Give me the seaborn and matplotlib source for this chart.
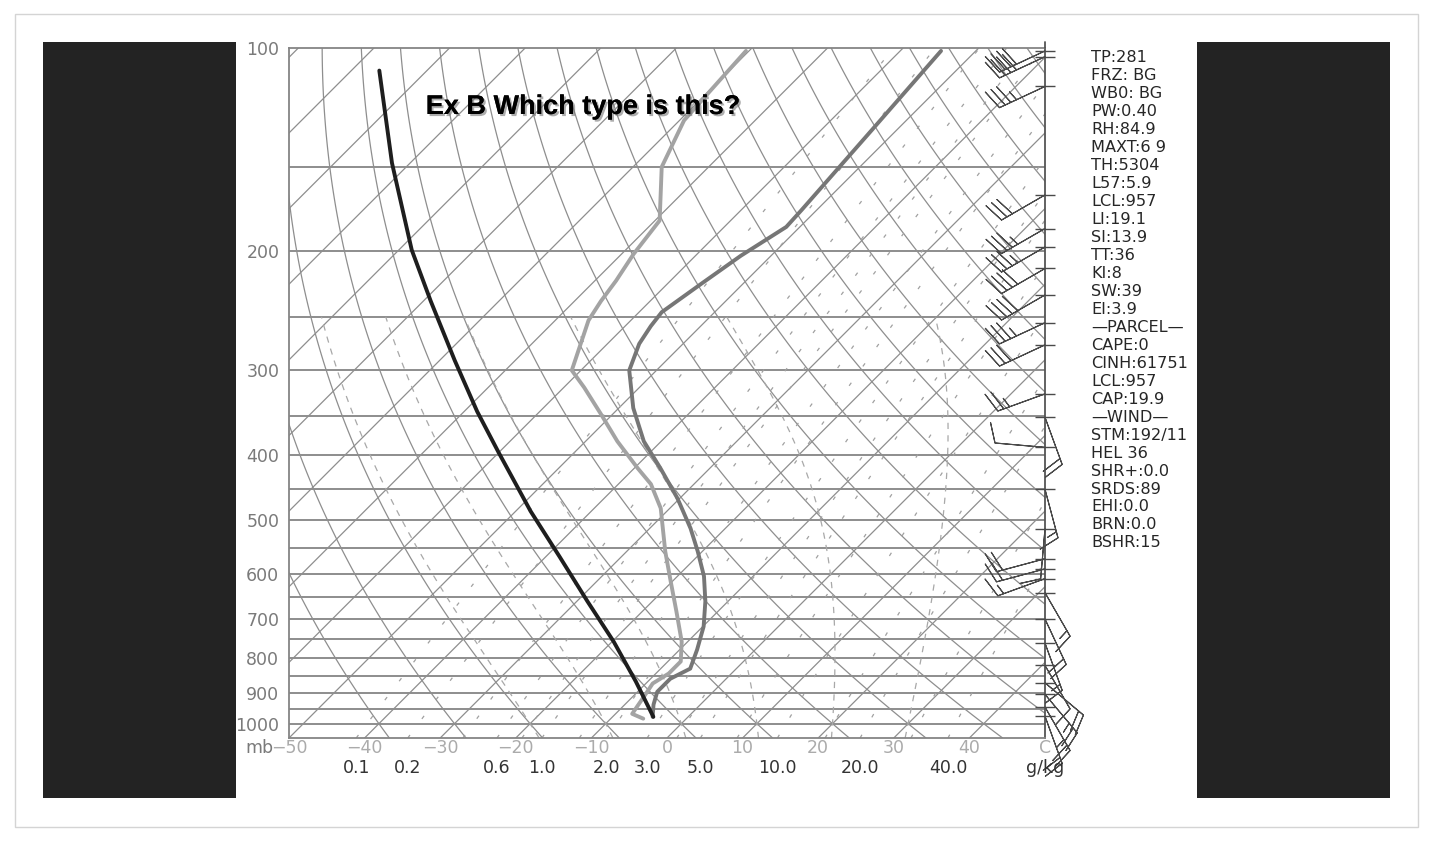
import numpy as np
import pandas as pd
import matplotlib
matplotlib.use("Agg")
import matplotlib.pyplot as plt
import matplotlib.patheffects as pe
from matplotlib.patches import Rectangle
from matplotlib.lines import Line2D
import seaborn as sns

# ---- sounding values (pressure in mb, temperature in C) ----
temp_p = [101, 132, 174, 184, 203, 223, 246, 258, 274, 300, 341, 382, 419, 464,
          514, 556, 605, 659, 718, 777, 829, 858, 897, 937, 977]
temp_t = [-54.6, -53.3, -52.0, -51.8, -54.0, -55.5, -57.0, -56.6, -55.8, -53.6,
          -48.1, -42.3, -36.5, -30.3, -24.6, -20.6, -16.5, -13.0, -9.9, -7.7,
          -6.1, -7.4, -7.4, -6.2, -4.7]

dewp_p = [101, 117, 128, 150, 180, 202, 221, 237, 253, 300, 318, 348, 382, 419,
          442, 480, 556, 616, 682, 756, 809, 843, 872, 906, 944, 967, 983]
dewp_t = [-80.4, -79.8, -79.4, -76.2, -69.4, -68.4, -67.2, -66.5, -65.6, -61.2,
          -57.3, -51.6, -45.8, -39.5, -35.7, -31.2, -24.9, -20.2, -15.5, -10.8,
          -8.3, -8.3, -9.1, -8.6, -8.1, -7.8, -5.7]

parcel_p = [108, 148, 199, 237, 290, 345, 395, 485, 565, 659, 756, 866, 977]
parcel_t = [-126.3, -112.4, -98.3, -89.0, -78.0, -68.3, -60.3, -48.0, -38.3,
            -28.6, -19.8, -11.6, -4.6]

# wind: pressure, direction (deg), speed (kt)
wind_p = [101, 103, 114, 165, 185, 197, 212, 232, 255, 275, 325, 352, 390, 450,
          515, 570, 590, 610, 640, 700, 760, 820, 870, 905, 945, 975]
wind_dir = [245, 245, 245, 240, 240, 240, 240, 240, 245, 245, 250, 160, 275, 165,
            185, 255, 255, 250, 150, 155, 160, 150, 130, 140, 150, 160]
wind_spd = [40, 40, 35, 30, 35, 35, 40, 40, 35, 30, 25, 20, 10, 15,
            10, 20, 20, 15, 15, 20, 15, 10, 20, 25, 25, 20]

stats = ["TP:281", "FRZ: BG", "WB0: BG", "PW:0.40", "RH:84.9", "MAXT:6 9",
         "TH:5304", "L57:5.9", "LCL:957", "LI:19.1", "SI:13.9", "TT:36", "KI:8",
         "SW:39", "EI:3.9", "\u2014PARCEL\u2014", "CAPE:0", "CINH:61751",
         "LCL:957", "CAP:19.9", "\u2014WIND\u2014", "STM:192/11", "HEL 36",
         "SHR+:0.0", "SRDS:89", "EHI:0.0", "BRN:0.0", "BSHR:15"]

pres_labels = [100, 200, 300, 400, 500, 600, 700, 800, 900, 1000]
temp_labels = [-50, -40, -30, -20, -10, 0, 10, 20, 30, 40, 50]
mix_labels = [0.1, 0.2, 0.6, 1.0, 2.0, 3.0, 5.0, 10.0, 20.0, 40.0]
mix_lines = [0.1, 0.2, 0.4, 0.6, 0.8, 1.0, 1.5, 2.0, 3.0, 4.0, 5.0, 7.0, 10.0,
             15.0, 20.0, 30.0, 40.0]

P_BOT, P_TOP = 1050.0, 100.0
K_SKEW = 38.8


def skew(t, p):
    return np.asarray(t, dtype=float) + K_SKEW * np.log(P_BOT / np.asarray(p, dtype=float))


def mixing_td(w, p):
    e = w * p / (622.0 + w)
    a = np.log(e / 6.112)
    return 243.5 * a / (17.67 - a)


def moist_lapse(t, p):
    rd, cp, lv, eps = 287.04, 1005.7, 2.501e6, 0.622
    tk = t + 273.15
    es = 6.112 * np.exp(17.67 * t / (t + 243.5))
    w = eps * es / (p - es)
    return (rd * tk + lv * w) / (cp + lv * lv * w * eps / (rd * tk * tk))


def moist_adiabat(tw, p_end):
    out_p, out_t = [1000.0], [tw]
    for target in (P_BOT, p_end):
        t, lp = tw, np.log(1000.0)
        steps = np.linspace(lp, np.log(target), 200)
        for i in range(1, len(steps)):
            d = steps[i] - steps[i - 1]
            k1 = moist_lapse(t, np.exp(steps[i - 1]))
            k2 = moist_lapse(t + k1 * d, np.exp(steps[i]))
            t = t + 0.5 * (k1 + k2) * d
            out_p.append(np.exp(steps[i]))
            out_t.append(t)
        if target == P_BOT:
            out_p = out_p[::-1]
            out_t = out_t[::-1]
    return np.array(out_p), np.array(out_t)


W, H = 1440, 841
fig = plt.figure(figsize=(W / 100, H / 100), dpi=100)
sns.set_theme(style="white")
plt.rcParams["font.family"] = ["DejaVu Sans"]


def fx(x):
    return x / W


def fy(y):
    return 1 - y / H


# framing panels
fig.patches.append(Rectangle((fx(15), fy(827)), (1418 - 15) / W, (827 - 14) / H,
                             transform=fig.transFigure, fill=False,
                             edgecolor="#d4d4d4", lw=1.0, zorder=-3))
fig.patches.append(Rectangle((fx(43), fy(798)), (1390 - 43) / W, (798 - 42) / H,
                             transform=fig.transFigure, facecolor="#232323",
                             edgecolor="none", zorder=-2))
fig.patches.append(Rectangle((fx(236), fy(798)), (1197 - 236) / W, (798 - 42) / H,
                             transform=fig.transFigure, facecolor="white",
                             edgecolor="none", zorder=-1))

ax = fig.add_axes([fx(289), fy(738), (1045 - 289) / W, (738 - 48) / H])
ax.set_facecolor("none")
ax.set_yscale("log")
ax.set_xlim(-50, 50)
ax.set_ylim(P_BOT, P_TOP)

grid_c = "#8e8e8e"
# isobars
for p in range(150, 1050, 50):
    ax.axhline(p, color="#858585", lw=1.3, zorder=1)
# isotherms
for t in range(-150, 51, 10):
    ax.plot(skew([t, t], [P_BOT, P_TOP]), [P_BOT, P_TOP], color=grid_c, lw=0.9, zorder=1)
# dry adiabats
pp = np.geomspace(P_BOT, P_TOP, 120)
for th in range(-40, 190, 10):
    tt = (th + 273.15) * (pp / 1000.0) ** 0.2857 - 273.15
    ax.plot(skew(tt, pp), pp, color=grid_c, lw=0.9, zorder=1)
# moist adiabats
for tw in range(-20, 40, 10):
    mp, mt = moist_adiabat(float(tw), 250.0)
    ax.plot(skew(mt, mp), mp, color="#a8a8a8", lw=0.9, ls=(0, (5, 5)), zorder=1)
# mixing ratio lines
pm = np.geomspace(P_BOT, P_TOP, 60)
for w in mix_lines:
    ax.plot(skew(mixing_td(w, pm), pm), pm, color="#a0a0a0", lw=0.9,
            ls=(0, (3, 16)), zorder=1)

# sounding curves
temp_df = pd.DataFrame({"p": temp_p, "X": skew(temp_t, temp_p)})
dewp_df = pd.DataFrame({"p": dewp_p, "X": skew(dewp_t, dewp_p)})
parcel_df = pd.DataFrame({"p": parcel_p, "X": skew(parcel_t, parcel_p)})
sns.lineplot(data=dewp_df, x="X", y="p", sort=False, estimator=None,
             color="#a3a3a3", lw=2.8, ax=ax, zorder=3)
sns.lineplot(data=temp_df, x="X", y="p", sort=False, estimator=None,
             color="#767676", lw=2.8, ax=ax, zorder=3)
sns.lineplot(data=parcel_df, x="X", y="p", sort=False, estimator=None,
             color="#1e1e1e", lw=2.8, ax=ax, zorder=4)

# wind barbs along the right edge
rad = np.deg2rad(wind_dir)
u = -np.array(wind_spd) * np.sin(rad)
v = -np.array(wind_spd) * np.cos(rad)
ax.barbs(np.full(len(wind_p), 50.0), wind_p, u, v, length=8.5, color="#4a4a4a",
         linewidth=0.8, clip_on=False, zorder=5)
ax.plot(np.full(len(wind_p), 50.0), wind_p, ls="none", marker="_", ms=14,
        mew=1.0, color="#4a4a4a", clip_on=False, zorder=5)

# axes frame
for side, sp in ax.spines.items():
    sp.set_visible(True)
    sp.set_color("#858585")
    sp.set_linewidth(1.3)
ax.spines["right"].set_color("#555555")
fig.lines.append(Line2D([fx(1045), fx(1045)], [fy(42), fy(48)], transform=fig.transFigure,
                        color="#555555", lw=1.3))

ax.set_yticks(pres_labels)
ax.set_yticklabels([str(p) for p in pres_labels])
ax.yaxis.set_minor_locator(matplotlib.ticker.NullLocator())
ax.set_xticks(temp_labels)
ax.set_xticklabels([("C" if t == 50 else str(t).replace("-", "\u2212")) for t in temp_labels])
ax.tick_params(axis="y", length=0, pad=7, labelsize=12.5, labelcolor="#7a7a7a")
ax.tick_params(axis="x", length=0, pad=1, labelsize=12.5, labelcolor="#ababab")
ax.set_xlabel("")
ax.set_ylabel("")

# mixing ratio labels under the temperature scale
row = matplotlib.transforms.blended_transform_factory(ax.transData, fig.transFigure)
for w in mix_labels:
    ax.text(float(skew(mixing_td(w, P_BOT), P_BOT)), fy(768), f"{w:.1f}", ha="center",
            va="center", fontsize=12.5, color="#333333", transform=row, clip_on=False)
fig.text(fx(1045), fy(768), "g/kg", ha="center", va="center", fontsize=12.5, color="#333333")
fig.text(fx(259), fy(748), "mb", ha="center", va="center", fontsize=12.5, color="#7a7a7a")

# title
fig.text(fx(583), fy(107), "Ex B Which type is this?", ha="center", va="center",
         fontsize=19.5, fontweight="bold", family=["Liberation Sans", "DejaVu Sans"],
         color="black",
         path_effects=[pe.withSimplePatchShadow(offset=(1.5, -1.5), shadow_rgbFace="#777777", alpha=0.6),
                       pe.Normal()])

# index panel
for i, s in enumerate(stats):
    fig.text(fx(1091), fy(58 + i * 17.96), s, ha="left", va="center",
             fontsize=11.6, color="#262626")

fig.savefig("out.png", dpi=100)
